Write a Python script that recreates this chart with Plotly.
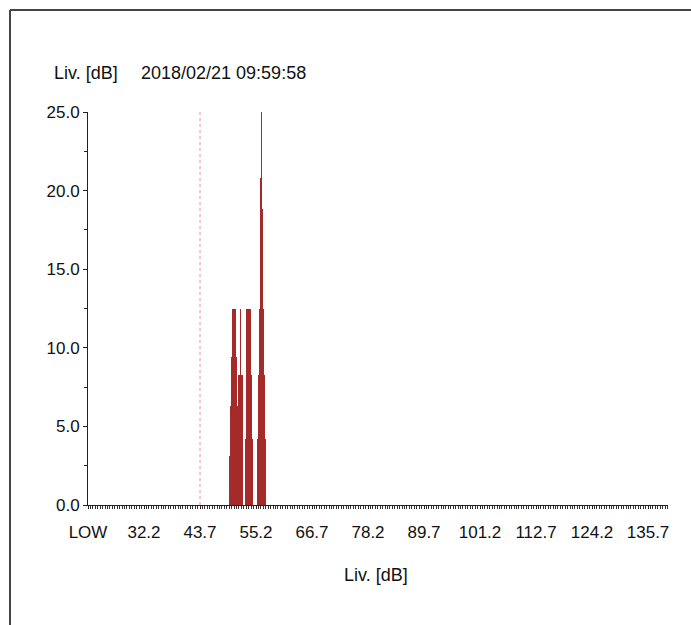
import plotly.graph_objects as go

# ---- data (level bins in dB, percentage of samples) ----
levels = [49.9, 50.0, 50.1, 50.2, 50.3, 50.4, 50.5, 50.6, 50.7, 50.8, 50.9, 51.0, 51.1, 51.2, 51.3, 51.4, 51.5,
          51.6, 51.7, 51.8, 51.9, 52.0, 52.1, 52.2, 52.3, 52.4,
          53.0, 53.1, 53.2, 53.3, 53.4, 53.5, 53.6, 53.7, 53.8, 53.9, 54.0, 54.1, 54.2, 54.3, 54.4,
          55.6, 55.7, 55.8, 55.9, 56.0, 56.1, 56.2, 56.3, 56.4, 56.5, 56.6, 56.7, 56.8, 56.9, 57.0]
percent = [3.1, 3.1, 6.3, 6.3, 9.4, 12.5, 12.5, 12.5, 12.5, 12.5, 12.5, 9.4, 9.4, 9.4, 6.3, 3.1, 3.1,
           4.2, 8.3, 8.3, 8.3, 12.5, 8.3, 8.3, 8.3, 4.2,
           4.2, 4.2, 8.3, 12.5, 12.5, 12.5, 12.5, 12.5, 12.5, 12.5, 12.5, 12.5, 8.3, 8.3, 4.2,
           4.2, 8.3, 8.3, 12.5, 12.5, 16.7, 20.8, 25.0, 18.8, 12.5, 12.5, 12.5, 8.3, 8.3, 4.2]

x_tick_vals = [20.7, 32.2, 43.7, 55.2, 66.7, 78.2, 89.7, 101.2, 112.7, 124.2, 135.7]
x_tick_text = ["LOW", "32.2", "43.7", "55.2", "66.7", "78.2", "89.7", "101.2", "112.7", "124.2", "135.7"]
marker_level = 43.7
title_left = "Liv. [dB]"
title_time = "2018/02/21 09:59:58"
x_title = "Liv. [dB]"

FONT = "Liberation Sans, Arial, sans-serif"

W, H = 691, 625
L, R, T, B = 88, 23, 112, 120
pw, ph = W - L - R, H - T - B


def px_x(p):
    return (p - L) / pw


def px_y(p):
    return (H - B - p) / ph


fig = go.Figure()
fig.add_trace(go.Bar(x=levels, y=percent, width=[0.1] * len(levels),
                     marker=dict(color="#a52a2a", line=dict(width=0)),
                     hoverinfo="x+y"))

fig.update_layout(
    width=W, height=H,
    margin=dict(l=L, r=R, t=T, b=B, pad=0),
    paper_bgcolor="white", plot_bgcolor="white",
    showlegend=False, bargap=0,
    font=dict(family=FONT, size=17, color="#111"),
    xaxis=dict(range=[20.7, 139.8], tickvals=x_tick_vals, ticktext=x_tick_text,
               showgrid=False, zeroline=False, showline=True, linecolor="#222", linewidth=1,
               ticks="outside", ticklen=3, tickcolor="#222", ticklabelstandoff=9,
               minor=dict(tick0=20.7, dtick=0.5, ticks="outside", ticklen=3, tickcolor="#333"),
               tickfont=dict(family=FONT, size=17)),
    yaxis=dict(range=[0, 25], tick0=0, dtick=5, tickformat=".1f",
               showgrid=False, zeroline=False, showline=True, linecolor="#222", linewidth=1,
               ticks="outside", ticklen=4, tickcolor="#222",
               minor=dict(tick0=0, dtick=2.5, ticks="outside", ticklen=3, tickcolor="#222"),
               tickfont=dict(family=FONT, size=17)),
    shapes=[
        dict(type="line", xref="x", yref="paper", x0=marker_level, x1=marker_level, y0=0, y1=1,
             line=dict(color="#f08cb8", width=1, dash="3px,3px")),
        dict(type="line", xref="paper", yref="paper", x0=px_x(10), x1=px_x(W + 5),
             y0=px_y(10), y1=px_y(10), line=dict(color="#444", width=2)),
        dict(type="line", xref="paper", yref="paper", x0=px_x(10), x1=px_x(10),
             y0=px_y(10), y1=px_y(H + 5), line=dict(color="#444", width=2)),
    ],
    annotations=[
        dict(text=title_left, xref="paper", yref="paper", x=px_x(52), y=px_y(73),
             xanchor="left", yanchor="middle", showarrow=False, font=dict(family=FONT, size=18)),
        dict(text=title_time, xref="paper", yref="paper", x=px_x(139), y=px_y(73),
             xanchor="left", yanchor="middle", showarrow=False, font=dict(family=FONT, size=18)),
        dict(text=x_title, xref="paper", yref="paper", x=px_x(376), y=px_y(575),
             xanchor="center", yanchor="middle", showarrow=False, font=dict(family=FONT, size=18)),
    ],
)

fig.write_html("out.html", config={"displayModeBar": False},
               post_script="document.body.style.margin='0';")
